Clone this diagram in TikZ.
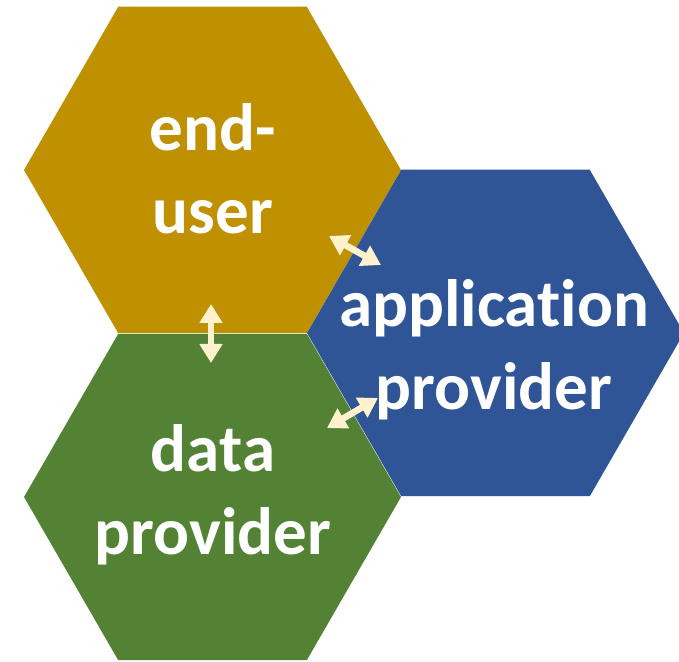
\documentclass[tikz,border=0pt]{standalone}
\usepackage{fontspec}
\setmainfont{Carlito}[RawFeature=-liga]
\usetikzlibrary{shapes.geometric,arrows.meta}
\definecolor{euGold}{HTML}{BF9000}
\definecolor{dpGreen}{HTML}{548235}
\definecolor{apBlue}{HTML}{2F5597}
\definecolor{linkCream}{HTML}{FFF2CC}

\begin{document}
\begin{tikzpicture}[x=1pt,y=1pt,
  hexcell/.style={regular polygon,regular polygon sides=6,minimum size=377pt,inner sep=0pt,outer sep=0pt},
  celltext/.style={text=white,font=\fontsize{67}{83}\selectfont\bfseries,align=center},
  link/.style={draw=linkCream,line width=6.5pt,{Triangle[width=22pt,length=19pt]}-{Triangle[width=22pt,length=19pt]}}]
\useasboundingbox[fill=white] (0.000000,0.000000) rectangle (679.000000,661.000000);
% Drawing cells
% Cell 1: end-user
\node[hexcell,fill=euGold] (eu) at (212.500000,491.000000) {};
% Cell 2: data provider
\node[hexcell,fill=dpGreen] (dp) at (212.500000,164.000000) {};
% Cell 3: application provider
\node[hexcell,fill=apBlue] (ap) at (495.500000,328.000000) {};
% Done with cells; drawing labels
\node[celltext] (eutext) at (213.000000,492.000000) {end-\\user};
\node[celltext] (dptext) at (213.000000,166.000000) {data\\provider};
\node[celltext] (aptext) at (494.000000,311.000000) {application\\provider};
% Done with labels; drawing links
\coordinate (euDown) at (211.000000,357.000000);
\coordinate (dpUp) at (211.000000,298.000000);
\coordinate (euRight) at (329.000000,425.000000);
\coordinate (apLeftUp) at (381.000000,396.000000);
\coordinate (dpRight) at (327.000000,233.000000);
\coordinate (apLeftDown) at (378.000000,263.000000);
\draw[link] (euDown) -- (dpUp);
\draw[link] (euRight) -- (apLeftUp);
\draw[link] (dpRight) -- (apLeftDown);
% Done with links
\end{tikzpicture}
\end{document}
